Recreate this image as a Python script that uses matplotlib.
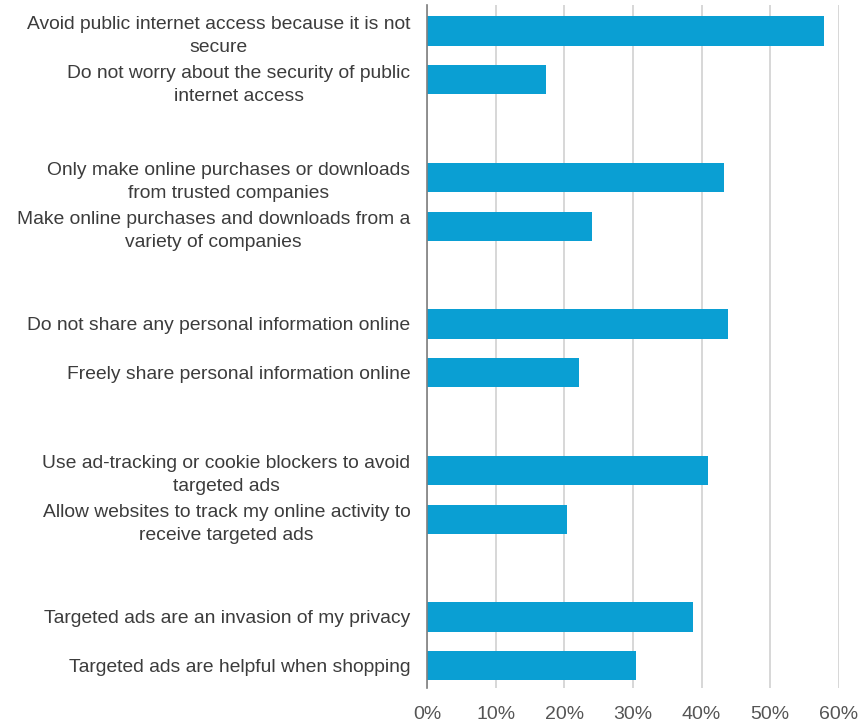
import matplotlib

matplotlib.use("Agg")
import matplotlib.pyplot as plt
from matplotlib.ticker import FuncFormatter, MultipleLocator

plt.rcParams["font.family"] = ["Liberation Sans", "DejaVu Sans"]

# Statements, top to bottom (pairs of opposing attitudes)
labels = [
    "Avoid public internet access because it is not\nsecure",
    "Do not worry about the security of public\ninternet access",
    "Only make online purchases or downloads\nfrom trusted companies",
    "Make online purchases and downloads from a\nvariety of companies",
    "Do not share any personal information online",
    "Freely share personal information online",
    "Use ad-tracking or cookie blockers to avoid\ntargeted ads",
    "Allow websites to track my online activity to\nreceive targeted ads",
    "Targeted ads are an invasion of my privacy",
    "Targeted ads are helpful when shopping",
]
shares = [0.578, 0.173, 0.432, 0.241, 0.438, 0.221, 0.409, 0.204, 0.387, 0.305]
positions = [0, 1, 3, 4, 6, 7, 9, 10, 12, 13]

BAR = "#0a9fd3"
TXT = "#3c3c3c"

fig = plt.figure(figsize=(8.6, 7.24), dpi=100)
ax = fig.add_axes([0.4965, 0.05, 0.479, 0.943])

ax.barh(positions, shares, height=0.6, color=BAR, zorder=3)

ax.set_xlim(0, 0.6)
ax.set_ylim(13.45, -0.53)
ax.xaxis.set_major_locator(MultipleLocator(0.1))
ax.xaxis.set_major_formatter(FuncFormatter(lambda v, _: f"{v * 100:.0f}%"))
ax.grid(axis="x", color="#d4d4d4", lw=1.3, zorder=0)

ax.set_yticks(positions)
ax.set_yticklabels(labels, multialignment="center", linespacing=1.45)
ax.tick_params(axis="y", length=0, pad=12, labelsize=13.9, labelcolor=TXT)
ax.tick_params(axis="x", length=0, pad=13, labelsize=14, labelcolor="#555555")

for side in ("top", "right", "bottom"):
    ax.spines[side].set_visible(False)
ax.spines["left"].set_color("#7f7f7f")
ax.spines["left"].set_linewidth(1.2)
ax.spines["left"].set_zorder(4)

fig.savefig("out.png", dpi=100)
